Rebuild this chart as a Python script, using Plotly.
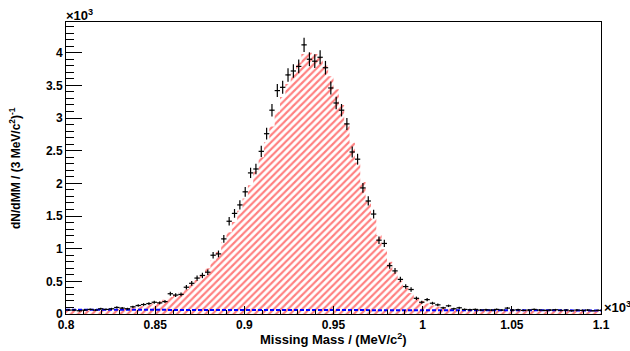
import numpy as np
import plotly.graph_objects as go

# Bin layout: 100 bins of 3 MeV from 0.8 to 1.1 (x10^3 MeV)
x_min, x_max, n_bins = 0.8, 1.1, 100

# Data counts (x10^3 per bin)
data_vals = [
    0.06, 0.06, 0.05, 0.06, 0.07, 0.06, 0.08, 0.07, 0.08, 0.10,
    0.09, 0.08, 0.11, 0.13, 0.145, 0.16, 0.18, 0.17, 0.19, 0.31,
    0.29, 0.30, 0.41, 0.47, 0.55, 0.59, 0.64, 0.90, 0.92, 1.15,
    1.42, 1.54, 1.67, 1.87, 2.16, 2.22, 2.49, 2.76, 3.12, 3.42,
    3.47, 3.66, 3.72, 3.79, 4.12, 3.90, 3.87, 3.93, 3.77, 3.46,
    3.23, 3.12, 2.91, 2.48, 2.37, 1.93, 1.73, 1.53, 1.13, 1.08,
    0.74, 0.66, 0.53, 0.42, 0.375, 0.24, 0.18, 0.22, 0.165, 0.14,
    0.095, 0.125, 0.08, 0.095, 0.07, 0.065, 0.07, 0.06, 0.065, 0.06,
    0.07, 0.06, 0.09, 0.06, 0.065, 0.055, 0.06, 0.07, 0.06, 0.055,
    0.06, 0.065, 0.055, 0.06, 0.05, 0.06, 0.055, 0.06, 0.05, 0.055,
]

# Simulated (hatched) histogram (x10^3 per bin)
mc_vals = [
    0.05, 0.05, 0.05, 0.055, 0.055, 0.06, 0.06, 0.065, 0.07, 0.075,
    0.08, 0.09, 0.10, 0.11, 0.12, 0.14, 0.16, 0.19, 0.22, 0.26,
    0.29, 0.33, 0.38, 0.45, 0.52, 0.60, 0.70, 0.82, 0.95, 1.10,
    1.25, 1.41, 1.58, 1.77, 1.97, 2.18, 2.40, 2.63, 2.87, 3.10,
    3.32, 3.52, 3.68, 3.85, 3.98, 4.00, 3.98, 3.92, 3.80, 3.64,
    3.44, 3.20, 2.92, 2.62, 2.32, 2.02, 1.73, 1.46, 1.21, 0.99,
    0.80, 0.64, 0.51, 0.40, 0.32, 0.25, 0.20, 0.16, 0.13, 0.11,
    0.095, 0.085, 0.075, 0.07, 0.065, 0.065, 0.06, 0.06, 0.06, 0.06,
    0.06, 0.06, 0.06, 0.06, 0.06, 0.055, 0.055, 0.055, 0.055, 0.055,
    0.055, 0.055, 0.055, 0.055, 0.055, 0.055, 0.055, 0.055, 0.055, 0.055,
]

# Background (blue dashed) level
bg_x = [0.8, 0.95, 1.1]
bg_vals = [0.065, 0.06, 0.055]

x_ticks = [0.8, 0.85, 0.9, 0.95, 1.0, 1.05, 1.1]
x_tick_labels = ["0.8", "0.85", "0.9", "0.95", "1", "1.05", "1.1"]
y_ticks = [0, 0.5, 1, 1.5, 2, 2.5, 3, 3.5, 4]
y_tick_labels = ["0", "0.5", "1", "1.5", "2", "2.5", "3", "3.5", "4"]

bw = (x_max - x_min) / n_bins
edges = x_min + bw * np.arange(n_bins + 1)
centers = edges[:-1] + bw / 2
data = np.array(data_vals)
err_y = 1.7 * np.sqrt(data * 1000) / 1000.0

mc_x = list(edges)
mc_y = list(mc_vals) + [mc_vals[-1]]

fig = go.Figure()
fig.add_trace(go.Scatter(
    x=mc_x, y=mc_y, mode="lines", line=dict(width=0, shape="hv", color="red"),
    fill="tozeroy", fillcolor="rgba(0,0,0,0)",
    fillpattern=dict(shape="/", fgcolor="#ff0000", bgcolor="white", size=5, solidity=0.42),
    showlegend=False, hoverinfo="skip"))
fig.add_trace(go.Scatter(
    x=bg_x, y=bg_vals, mode="lines",
    line=dict(color="blue", width=2, dash="4px,2px"), showlegend=False))
fig.add_trace(go.Scatter(
    x=centers, y=data, mode="markers",
    marker=dict(size=1, color="black"),
    error_y=dict(type="data", array=err_y, width=0, thickness=1.2, color="black"),
    error_x=dict(type="constant", value=bw / 2, width=0, thickness=1.2, color="black"),
    showlegend=False))

font_b = dict(family="Liberation Sans", size=12, color="black", weight="bold")

fig.update_layout(
    width=630, height=351,
    margin=dict(l=66, r=29, t=22, b=37),
    paper_bgcolor="white", plot_bgcolor="white",
    font=font_b,
    xaxis=dict(range=[x_min, x_max], tickvals=x_ticks, ticktext=x_tick_labels,
               ticks="inside", ticklen=8, tickwidth=1, tickcolor="black",
               minor=dict(dtick=0.01, tick0=0.8, ticks="inside", ticklen=4, tickcolor="black", tickwidth=1),
               showline=True, linecolor="black", linewidth=1, mirror=True,
               showgrid=False, zeroline=False, tickfont=font_b),
    yaxis=dict(range=[0, 4.47], tickvals=y_ticks, ticktext=y_tick_labels,
               ticks="inside", ticklen=16, tickwidth=1, tickcolor="black",
               minor=dict(dtick=0.1, tick0=0, ticks="inside", ticklen=8, tickcolor="black", tickwidth=1),
               showline=True, linecolor="black", linewidth=1, mirror=True,
               showgrid=False, zeroline=False, tickfont=font_b),
    annotations=[
        dict(text="Missing Mass / (MeV/c<sup>2</sup>)", xref="paper", yref="paper",
             x=0.5, y=-0.084, xanchor="center", yanchor="middle", showarrow=False,
             font=dict(family="Liberation Sans", size=13, color="black", weight="bold")),
        dict(text="dN/dMM / (3 MeV/c<sup>2</sup>)<sup>-1</sup>", xref="paper", yref="paper",
             x=-0.0953, y=0.5, xanchor="center", yanchor="middle", textangle=-90, showarrow=False,
             font=dict(family="Liberation Sans", size=12, color="black", weight="bold")),
        dict(text="×10<sup>3</sup>", xref="paper", yref="paper", x=0, y=1,
             xanchor="left", yanchor="bottom", xshift=-2, yshift=-3, showarrow=False,
             font=dict(family="Liberation Sans", size=13, color="black")),
        dict(text="×10<sup>3</sup>", xref="paper", yref="paper", x=1, y=0,
             xanchor="left", yanchor="bottom", xshift=1, yshift=-3, showarrow=False,
             font=dict(family="Liberation Sans", size=13, color="black")),
    ],
)

fig.write_html("out.html")
